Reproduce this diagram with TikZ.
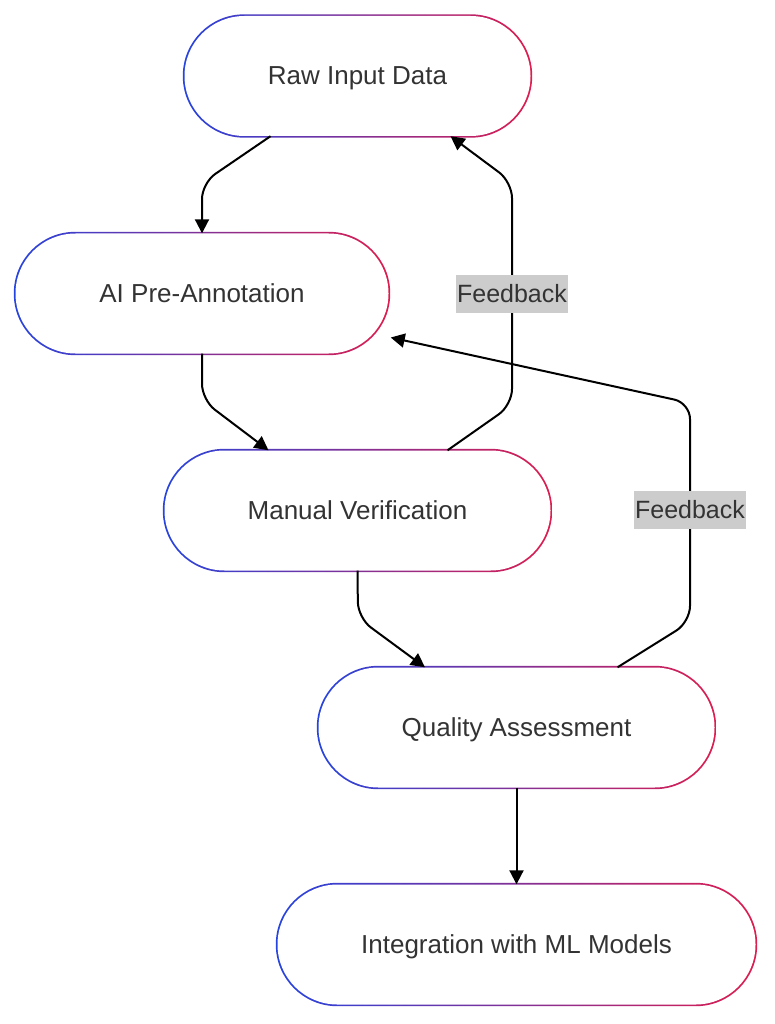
\documentclass[tikz,border=0pt]{standalone}
\usepackage{fontspec}
\setmainfont{Liberation Sans}
\usetikzlibrary{arrows.meta,backgrounds}
\definecolor{ringblue}{RGB}{38,68,222}
\definecolor{ringred}{RGB}{222,28,78}
\definecolor{textgray}{RGB}{51,51,51}
\definecolor{labelgray}{RGB}{204,204,204}

\begin{document}
\begin{tikzpicture}[x=1pt,y=-1pt,
    term/.style={rectangle, rounded corners=60pt, fill=white, inner sep=0pt,
        minimum height=120pt, text=textgray, text height=18pt, text depth=0pt,
        font=\fontsize{26}{31}\selectfont},
    flow/.style={line width=2pt, rounded corners=16pt,
        -{Triangle[length=14pt,width=14pt]}},
    fblabel/.style={fill=labelgray, text=textgray, inner xsep=1pt,
        minimum height=38pt, font=\fontsize{25}{30}\selectfont}]
    \useasboundingbox (0,0) rectangle (774,1024);
    % the five stages
    \node[term, minimum width=346pt] (raw) at (357.5,76) {Raw Input Data};
    \node[term, minimum width=373pt] (ai) at (202,293.5) {AI Pre-Annotation};
    \node[term, minimum width=386pt] (manual) at (357.5,510.5) {Manual Verification};
    \node[term, minimum width=396pt] (quality) at (516.5,727.5) {Quality Assessment};
    \node[term, minimum width=478pt] (ml) at (516.5,944.5) {Integration with ML Models};
    % coloured rim behind every stage
    \begin{scope}[on background layer]
        \foreach \n in {raw,ai,manual,quality,ml}
            \shade[left color=ringblue, right color=ringred, rounded corners=61.5pt]
                ([shift={(-1.5,1.5)}]\n.south west) rectangle ([shift={(1.5,-1.5)}]\n.north east);
    \end{scope}
    % main flow
    \draw[flow] ([xshift=-87pt]raw.south) -- (202,183) -- (ai.north);
    \draw[flow] (ai.south) -- (202,400) -- ([xshift=-89pt]manual.north);
    \draw[flow] (manual.south) -- (358,618) -- ([xshift=-91.5pt]quality.north);
    \draw[flow] (quality.south) -- (ml.north);
    % feedback loops
    \draw[flow] ([xshift=90pt]manual.north) -- (512,405) -- (512,182) -- ([xshift=93pt]raw.south);
    \node[fblabel] (fb1) at (512,293.5) {Feedback};
    \draw[flow] ([xshift=101pt]quality.north) -- (690,622) -- (690,403) -- ([shift={(2,44)}]ai.east);
    \node[fblabel] (fb2) at (690,510) {Feedback};
\end{tikzpicture}
\end{document}
